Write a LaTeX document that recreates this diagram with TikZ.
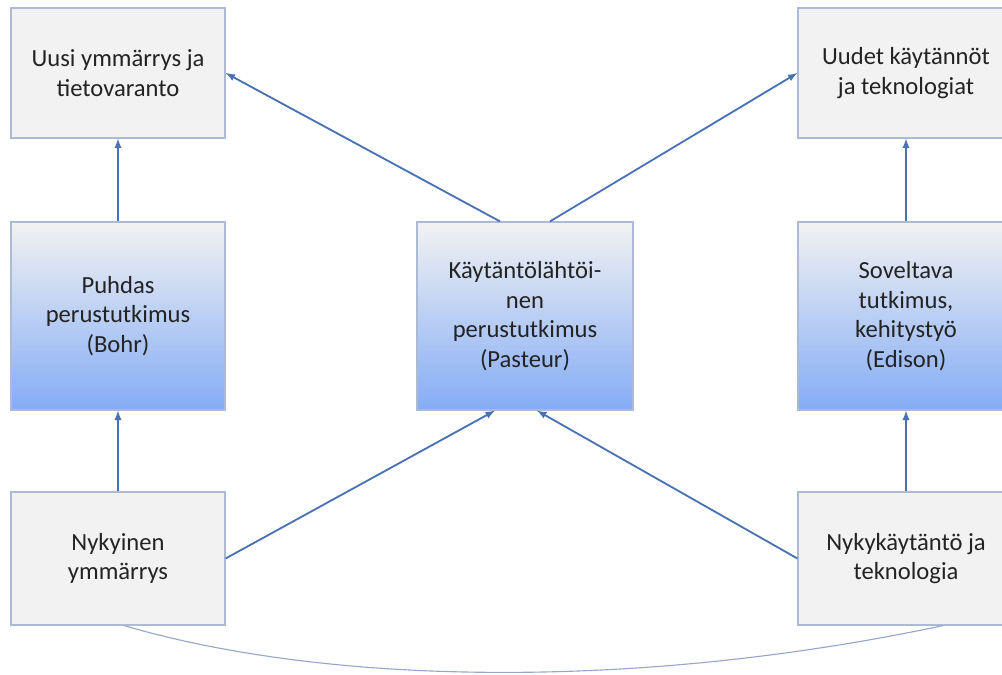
\documentclass[tikz,border=0pt]{standalone}
\usepackage{fontspec}
\setmainfont{Carlito}
\usepackage{tikz}
\usetikzlibrary{arrows}
\definecolor{nuolisini}{RGB}{72,114,178}
\definecolor{reuna}{RGB}{172,186,212}
\definecolor{laatikko}{RGB}{242,242,242}
\definecolor{sininen}{RGB}{132,172,245}
\definecolor{teksti}{RGB}{35,35,35}
\definecolor{kaarisini}{RGB}{150,166,204}

\begin{document}
\begin{tikzpicture}[x=0.025cm, y=-0.025cm,
		ruutu/.style={draw=reuna, line width=0.8pt, fill=laatikko, text=teksti, align=center, minimum width=5.35cm, font=\fontsize{17.5}{21}\selectfont},
		tutkimus/.style={ruutu, top color=laatikko, bottom color=sininen, minimum height=4.7cm},
		yhteys/.style={draw=nuolisini, line width=1.3pt, -latex},
		kaari/.style={draw=kaarisini, line width=0.8pt}]
				\useasboundingbox (0,0) rectangle (1002,675);
				% ylarivi
				\node[ruutu, minimum height=3.25cm] (uusi) at (118,73) {Uusi ymmärrys ja\\tietovaranto};
				\node[ruutu, minimum height=3.25cm, minimum width=5.4cm] (uudet) at (906,73) {Uudet käytännöt\\ja teknologiat};
				% tutkimus
				\node[tutkimus] (puhdas) at (118,316) {Puhdas\\perustutkimus\\(Bohr)};
				\node[tutkimus, minimum width=5.4cm] (kaytanto) at (525,316) {Käytäntölähtöi-\\nen\\perustutkimus\\(Pasteur)};
				\node[tutkimus, minimum width=5.4cm] (soveltava) at (906,316) {Soveltava\\tutkimus,\\kehitystyö\\(Edison)};
				% alarivi
				\node[ruutu, minimum height=3.325cm] (nykyinen) at (118,558.5) {Nykyinen\\ymmärrys};
				\node[ruutu, minimum height=3.325cm, minimum width=5.4cm] (nykykaytanto) at (906,558.5) {Nykykäytäntö ja\\teknologia};
				% nuolet
				\draw[yhteys] (nykyinen) -- (puhdas);
				\draw[yhteys] (puhdas) -- (uusi);
				\draw[yhteys] (nykykaytanto) -- (soveltava);
				\draw[yhteys] (soveltava) -- (uudet);
				\draw[yhteys] (nykyinen.east) -- ([xshift=-0.75cm]kaytanto.south);
				\draw[yhteys] (nykykaytanto.west) -- ([xshift=0.3cm]kaytanto.south);
				\draw[yhteys] ([xshift=-0.625cm]kaytanto.north) -- (uusi.east);
				\draw[yhteys] ([xshift=0.625cm]kaytanto.north) -- (uudet.west);
				\draw[kaari] ([xshift=0.15cm]nykyinen.south) .. controls (330,686) and (640,690) .. ([xshift=0.925cm]nykykaytanto.south);
			\end{tikzpicture}
\end{document}
